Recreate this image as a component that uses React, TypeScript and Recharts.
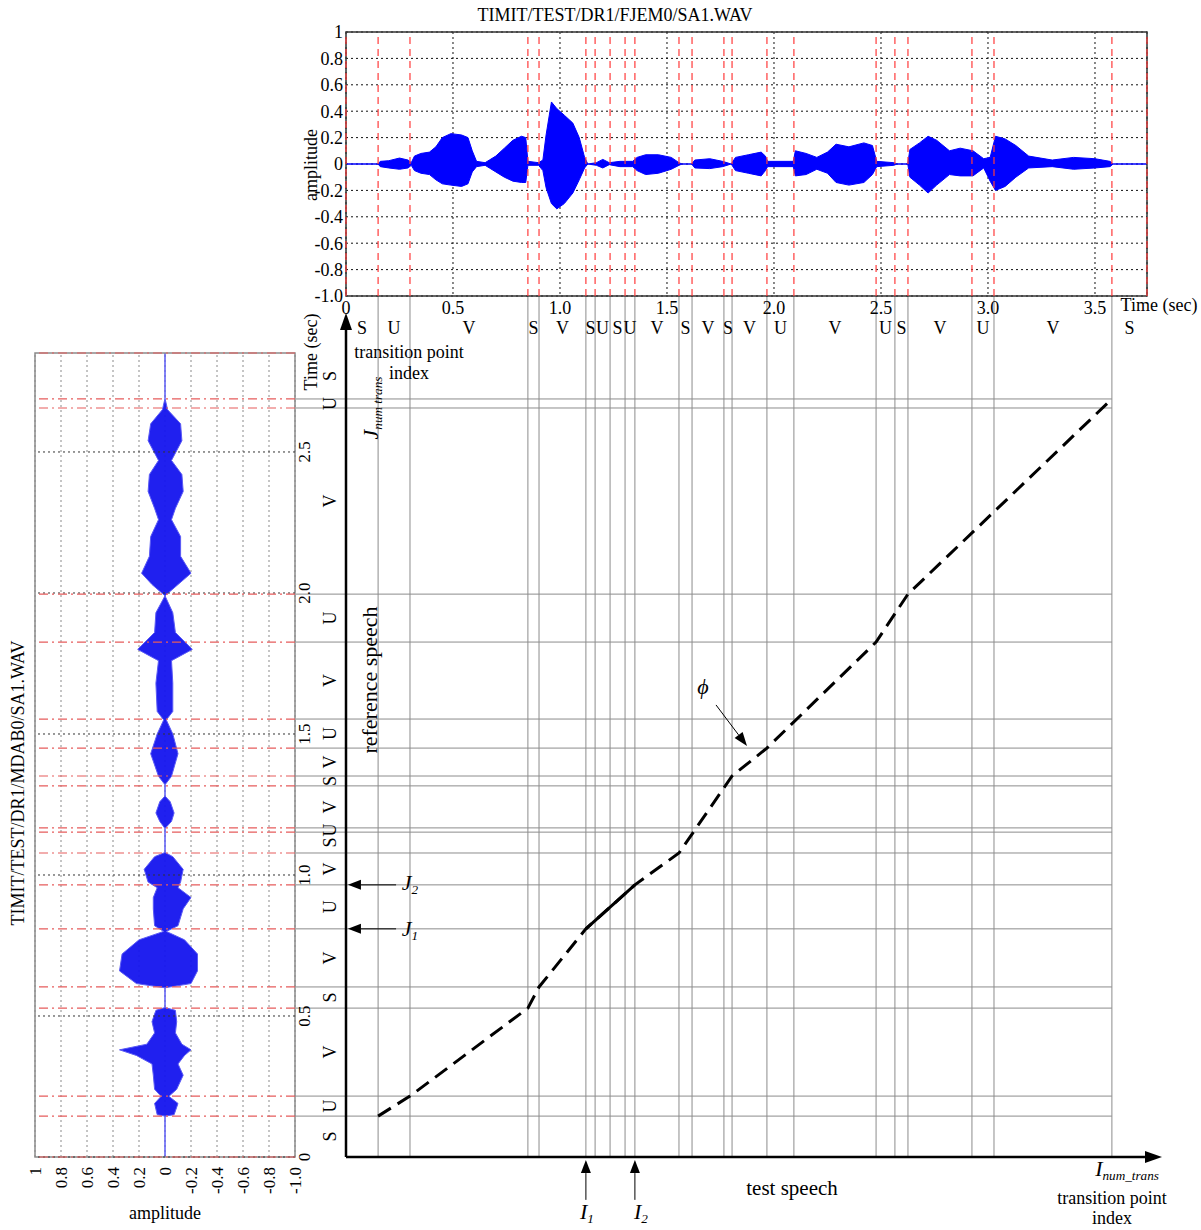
import React from 'react';
import {
  ComposedChart,
  Line,
  Area,
  XAxis,
  YAxis,
  CartesianGrid,
  ReferenceLine,
  ReferenceArea,
  ReferenceDot,
} from 'recharts';

const FONT = '"Liberation Serif", "Times New Roman", serif';

// test speech FJEM0 - transition points (sec) and S/U/V segment labels
const testTrans = [0.150, 0.299, 0.850, 0.902, 1.121, 1.164, 1.234, 1.304, 1.350, 1.556, 1.617, 1.766, 1.804, 1.967, 2.093, 2.477, 2.565, 2.626, 2.925, 3.028, 3.579];
const testEnd = 3.743;
const testSegLabels = ['S', 'U', 'V', 'S', 'V', 'S', 'U', 'S', 'U', 'V', 'S', 'V', 'S', 'V', 'U', 'V', 'U', 'S', 'V', 'U', 'V', 'S'];

// reference speech MDAB0
const refTrans = [0.145, 0.216, 0.528, 0.603, 0.809, 0.965, 1.078, 1.152, 1.167, 1.316, 1.351, 1.450, 1.553, 1.826, 1.996, 2.656, 2.688];
const refEnd = 2.851;
const refSegLabels = ['S', 'U', 'V', 'S', 'V', 'U', 'V', 'S', 'U', 'V', 'S', 'V', 'U', 'V', 'U', 'V', 'U', 'S'];

// waveform envelopes (upper / lower amplitude)
const testWaveT = [0, 0.15, 0.16, 0.2, 0.25, 0.29, 0.305, 0.32, 0.35, 0.39, 0.42, 0.45, 0.49, 0.54, 0.57, 0.59, 0.61, 0.65, 0.67, 0.7, 0.74, 0.78, 0.82, 0.84, 0.85, 0.9, 0.92, 0.935, 0.96, 0.985, 1.02, 1.06, 1.09, 1.115, 1.13, 1.17, 1.2, 1.23, 1.28, 1.34, 1.36, 1.4, 1.46, 1.52, 1.556, 1.57, 1.615, 1.63, 1.7, 1.76, 1.8, 1.82, 1.88, 1.94, 1.96, 1.97, 2.09, 2.1, 2.15, 2.2, 2.25, 2.29, 2.35, 2.42, 2.46, 2.48, 2.56, 2.575, 2.625, 2.635, 2.68, 2.72, 2.76, 2.82, 2.87, 2.93, 2.98, 3.01, 3.035, 3.08, 3.13, 3.19, 3.3, 3.4, 3.5, 3.57, 3.585, 3.743];
const testWaveHi = [0, 0, 0.02, 0.025, 0.045, 0.03, 0.01, 0.06, 0.08, 0.09, 0.13, 0.2, 0.23, 0.22, 0.2, 0.1, 0.02, 0.01, 0.03, 0.06, 0.12, 0.18, 0.21, 0.2, 0.02, 0.01, 0.03, 0.22, 0.47, 0.42, 0.37, 0.31, 0.2, 0.05, 0, 0.01, 0.035, 0.01, 0.02, 0.02, 0.05, 0.07, 0.07, 0.05, 0.01, 0, 0, 0.03, 0.04, 0.02, 0, 0.05, 0.07, 0.09, 0.06, 0.02, 0.02, 0.1, 0.08, 0.05, 0.09, 0.15, 0.13, 0.16, 0.14, 0.02, 0.01, 0, 0, 0.11, 0.16, 0.21, 0.18, 0.1, 0.12, 0.1, 0.04, 0.05, 0.21, 0.19, 0.14, 0.06, 0.03, 0.05, 0.04, 0.02, 0, 0];
const testWaveLo = [0, 0, -0.02, -0.03, -0.04, -0.03, -0.01, -0.05, -0.07, -0.08, -0.12, -0.15, -0.16, -0.17, -0.15, -0.06, -0.02, -0.01, -0.03, -0.06, -0.1, -0.13, -0.14, -0.14, -0.01, -0.01, -0.05, -0.18, -0.3, -0.34, -0.3, -0.22, -0.12, -0.03, 0, -0.01, -0.03, -0.005, -0.02, -0.02, -0.05, -0.08, -0.07, -0.04, -0.01, 0, 0, -0.03, -0.035, -0.02, 0, -0.05, -0.07, -0.09, -0.05, -0.02, -0.02, -0.09, -0.08, -0.04, -0.07, -0.14, -0.16, -0.14, -0.08, -0.02, -0.01, 0, 0, -0.1, -0.16, -0.22, -0.16, -0.08, -0.09, -0.09, -0.03, -0.13, -0.2, -0.17, -0.1, -0.03, -0.02, -0.04, -0.03, -0.02, 0, 0];

const refWaveT = [0, 0.145, 0.15, 0.19, 0.215, 0.24, 0.29, 0.33, 0.36, 0.38, 0.4, 0.44, 0.48, 0.52, 0.53, 0.6, 0.615, 0.66, 0.72, 0.77, 0.8, 0.82, 0.88, 0.92, 0.955, 0.975, 1.02, 1.065, 1.08, 1.165, 1.19, 1.22, 1.26, 1.28, 1.32, 1.35, 1.43, 1.5, 1.55, 1.58, 1.68, 1.76, 1.8, 1.86, 1.93, 1.99, 2.03, 2.07, 2.13, 2.2, 2.26, 2.3, 2.36, 2.42, 2.47, 2.54, 2.6, 2.65, 2.69, 2.851];
const refWaveHi = [0, 0, 0.06, 0.08, 0.03, 0.08, 0.09, 0.1, 0.22, 0.35, 0.14, 0.08, 0.1, 0.07, 0, 0, 0.22, 0.35, 0.33, 0.2, 0.01, 0.08, 0.09, 0.09, 0.06, 0.13, 0.16, 0.08, 0, 0, 0.04, 0.07, 0.04, 0, 0, 0.05, 0.11, 0.06, 0.01, 0.06, 0.07, 0.05, 0.21, 0.08, 0.07, 0, 0.1, 0.18, 0.12, 0.11, 0.05, 0.08, 0.13, 0.12, 0.05, 0.13, 0.11, 0.02, 0, 0];
const refWaveLo = [0, 0, -0.07, -0.1, -0.03, -0.09, -0.14, -0.1, -0.15, -0.2, -0.13, -0.08, -0.09, -0.08, 0, 0, -0.2, -0.25, -0.25, -0.15, -0.01, -0.1, -0.14, -0.2, -0.1, -0.12, -0.14, -0.06, 0, 0, -0.05, -0.07, -0.04, 0, 0, -0.05, -0.1, -0.06, -0.01, -0.06, -0.06, -0.05, -0.21, -0.08, -0.06, 0, -0.1, -0.2, -0.12, -0.12, -0.05, -0.08, -0.14, -0.13, -0.05, -0.13, -0.12, -0.02, 0, 0];

// warping path phi: (test time, reference time)
const pathTest = [0.150, 0.299, 0.850, 0.902, 1.121, 1.350, 1.556, 1.804, 1.967, 2.477, 2.626, 3.579];
const pathRef = [0.145, 0.216, 0.528, 0.603, 0.809, 0.965, 1.078, 1.351, 1.450, 1.826, 1.996, 2.688];
const I1 = 1.121, I2 = 1.350, J1 = 0.809, J2 = 0.965;

const testTimeTicks = [0, 0.5, 1, 1.5, 2, 2.5, 3, 3.5];
const refTimeTicks = [0, 0.5, 1, 1.5, 2, 2.5];
const ampTicks = [1, 0.8, 0.6, 0.4, 0.2, 0, -0.2, -0.4, -0.6, -0.8, -1];

const fmtTime = (v: number) => (v === 0 ? '0' : v.toFixed(1));
const fmtAmp = (v: number) => (v === 0 ? '0' : v === 1 ? '1' : v.toFixed(1));

// line with a filled arrow head at (x2, y2)
const arrow = (head: number, half: number) => (p: any) => {
  const { x1, y1, x2, y2, stroke, strokeWidth } = p;
  const a = Math.atan2(y2 - y1, x2 - x1);
  const bx = x2 - head * Math.cos(a);
  const by = y2 - head * Math.sin(a);
  const nx = -Math.sin(a) * half;
  const ny = Math.cos(a) * half;
  return (
    <g>
      <line x1={x1} y1={y1} x2={bx} y2={by} stroke={stroke} strokeWidth={strokeWidth} />
      <polygon points={`${x2},${y2} ${bx + nx},${by + ny} ${bx - nx},${by - ny}`} fill={stroke} />
    </g>
  );
};

const segText = (txt: string, rot: number) => (p: any) => (
  <text
    x={p.cx}
    y={p.cy}
    textAnchor="middle"
    dominantBaseline="central"
    fontSize={18}
    fontFamily={FONT}
    fill="#000"
    transform={rot ? `rotate(${rot} ${p.cx} ${p.cy})` : undefined}
  >
    {txt}
  </text>
);

function Note({ x, y, size = 18, rot = 0, italic = false, children }: any) {
  return (
    <div
      style={{
        position: 'absolute',
        left: x,
        top: y,
        transform: `translate(-50%, -50%)${rot ? ` rotate(${rot}deg)` : ''}`,
        fontFamily: FONT,
        fontSize: size,
        fontStyle: italic ? 'italic' : 'normal',
        whiteSpace: 'nowrap',
        lineHeight: 1,
        color: '#000',
      }}
    >
      {children}
    </div>
  );
}

const sub = { fontSize: '0.6em', verticalAlign: '-0.35em' };

function TopWave() {
  const data = testWaveT.map((t, i) => ({ t, band: [testWaveLo[i], testWaveHi[i]] }));
  const tick = { fill: '#000', fontSize: 18, fontFamily: FONT };
  return (
    <div style={{ position: 'absolute', left: 0, top: 0 }}>
      <ComposedChart width={1201} height={330} data={data} margin={{ top: 32, right: 54, bottom: 4, left: 286 }}>
        <CartesianGrid stroke="#111" strokeDasharray="2 3" />
        <XAxis type="number" dataKey="t" domain={[0, testEnd]} ticks={testTimeTicks} tickFormatter={fmtTime}
          allowDataOverflow axisLine={false} tickLine={false} tickSize={0} tickMargin={5} height={30} tick={tick} interval={0} />
        <YAxis type="number" domain={[-1, 1]} ticks={ampTicks} tickFormatter={fmtAmp}
          allowDataOverflow axisLine={false} tickLine={false} tickSize={0} tickMargin={3} width={60} tick={tick} interval={0} />
        {[0, ...testTrans, testEnd].map((t) => (
          <ReferenceLine key={t} x={t} stroke="#ff3b3b" strokeDasharray="7 5" strokeWidth={1.2} />
        ))}
        <Area dataKey="band" type="linear" stroke="#0000ff" strokeWidth={1} fill="#0000ff" fillOpacity={1} isAnimationActive={false} />
        <ReferenceArea x1={0} x2={testEnd} y1={-1} y2={1} fill="none" stroke="#333" strokeWidth={1.5} />
      </ComposedChart>
    </div>
  );
}

// drawn as an ordinary time/amplitude plot, then turned a quarter turn
function LeftWave() {
  const data = refWaveT.map((t, i) => ({ t, band: [refWaveLo[i], refWaveHi[i]] }));
  const tick = { fill: '#000', fontSize: 17, fontFamily: FONT };
  return (
    <div style={{ position: 'absolute', left: 0, top: 0, transformOrigin: '0 0', transform: 'translate(0px, 1217px) rotate(-90deg)' }}>
      <ComposedChart width={884} height={335} data={data} margin={{ top: 35, right: 20, bottom: 10, left: 0 }}>
        <CartesianGrid vertical={false} stroke="#8a8a8a" strokeDasharray="2 3" />
        <XAxis type="number" dataKey="t" domain={[0, refEnd]} ticks={refTimeTicks} tickFormatter={fmtTime}
          allowDataOverflow axisLine={false} tickLine={false} tickSize={0} tickMargin={3} height={30} tick={tick} interval={0} />
        <YAxis type="number" domain={[-1, 1]} ticks={ampTicks} tickFormatter={fmtAmp}
          allowDataOverflow axisLine={false} tickLine={false} tickSize={0} tickMargin={10} width={60} tick={tick} interval={0} />
        {refTimeTicks.map((t) => (
          <ReferenceLine key={'g' + t} x={t} stroke="#333" strokeDasharray="2 3" />
        ))}
        {[0, ...refTrans, refEnd].map((t) => (
          <ReferenceLine key={t} x={t} stroke="#e65c5c" strokeDasharray="9 4 2 4" strokeWidth={1.2} />
        ))}
        <Area dataKey="band" type="linear" stroke="#5a5af5" strokeWidth={1} fill="#1414ee" fillOpacity={0.95} isAnimationActive={false} />
        <ReferenceArea x1={0} x2={refEnd} y1={-1} y2={1} fill="none" stroke="#8a8a8a" strokeWidth={1.5} />
      </ComposedChart>
    </div>
  );
}

function WarpGrid() {
  const data = pathTest.map((t, i) => ({
    t,
    r: pathRef[i],
    solid: t >= I1 - 1e-6 && t <= I2 + 1e-6 ? pathRef[i] : null,
  }));
  const gridTop = 3.053; // reaches up to the waveform above
  const gridLeft = -0.234; // reaches left to the rotated waveform
  const lastTest = testTrans[testTrans.length - 1];
  const tb = [0, ...testTrans, testEnd];
  const rb = [0, ...refTrans, refEnd];
  const gray = '#8c8c8c';
  return (
    <div style={{ position: 'absolute', left: 0, top: 0 }}>
      <ComposedChart width={1201} height={1230} data={data} margin={{ top: 353, right: 54, bottom: 73, left: 346 }}>
        <XAxis type="number" dataKey="t" domain={[0, testEnd]} hide allowDataOverflow />
        <YAxis type="number" domain={[0, refEnd]} hide allowDataOverflow />
        {testTrans.map((t) => (
          <ReferenceLine key={'v' + t} segment={[{ x: t, y: 0 }, { x: t, y: gridTop }]} ifOverflow="visible" stroke={gray} strokeWidth={1} />
        ))}
        {refTrans.map((r) => (
          <ReferenceLine key={'h' + r} segment={[{ x: gridLeft, y: r }, { x: lastTest, y: r }]} ifOverflow="visible" stroke={gray} strokeWidth={1} />
        ))}
        {/* axes */}
        <ReferenceLine segment={[{ x: 0, y: 0 }, { x: 0, y: 2.993 }]} ifOverflow="visible" stroke="#000" strokeWidth={2.5} shape={arrow(17, 6)} />
        <ReferenceLine segment={[{ x: 0, y: 0 }, { x: 3.813, y: 0 }]} ifOverflow="visible" stroke="#000" strokeWidth={2.5} shape={arrow(17, 6)} />
        {/* index markers */}
        {[J1, J2].map((j) => (
          <ReferenceLine key={'j' + j} segment={[{ x: 0.234, y: j }, { x: 0.009, y: j }]} ifOverflow="visible" stroke="#000" strokeWidth={1} shape={arrow(13, 5)} />
        ))}
        {[I1, I2].map((i) => (
          <ReferenceLine key={'i' + i} segment={[{ x: i, y: -0.152 }, { x: i, y: -0.011 }]} ifOverflow="visible" stroke="#000" strokeWidth={1} shape={arrow(13, 5)} />
        ))}
        <ReferenceLine segment={[{ x: 1.729, y: 1.603 }, { x: 1.874, y: 1.457 }]} ifOverflow="visible" stroke="#000" strokeWidth={1} shape={arrow(14, 5)} />
        {testSegLabels.map((s, i) => (
          <ReferenceDot key={'ts' + i} x={(tb[i] + tb[i + 1]) / 2} y={2.94} r={0} ifOverflow="visible" shape={segText(s, 0)} />
        ))}
        {refSegLabels.map((s, i) => (
          <ReferenceDot key={'rs' + i} x={-0.075} y={(rb[i] + rb[i + 1]) / 2} r={0} ifOverflow="visible" shape={segText(s, -90)} />
        ))}
        <Line dataKey="r" type="linear" stroke="#000" strokeWidth={3} strokeDasharray="15 8" dot={false} isAnimationActive={false} />
        <Line dataKey="solid" type="linear" stroke="#000" strokeWidth={3} dot={false} isAnimationActive={false} />
      </ComposedChart>
    </div>
  );
}

export default function App() {
  return (
    <div style={{ position: 'absolute', left: 0, top: 0, width: 1201, height: 1230, background: '#fff', overflow: 'hidden' }}>
      <WarpGrid />
      <TopWave />
      <LeftWave />

      <Note x={615} y={15}>TIMIT/TEST/DR1/FJEM0/SA1.WAV</Note>
      <Note x={311} y={165} rot={-90}>amplitude</Note>
      <Note x={1159} y={305}>Time (sec)</Note>

      <Note x={18} y={783} rot={-90}>TIMIT/TEST/DR1/MDAB0/SA1.WAV</Note>
      <Note x={165} y={1213}>amplitude</Note>
      <Note x={311} y={352} rot={-90}>Time (sec)</Note>

      <Note x={409} y={352}>transition point</Note>
      <Note x={409} y={373}>index</Note>
      <Note x={372} y={408} rot={-90} size={22} italic>
        J<span style={sub}>num trans</span>
      </Note>
      <Note x={370} y={680} rot={-90} size={22}>reference speech</Note>
      <Note x={703} y={687} size={22} italic>ϕ</Note>
      <Note x={410} y={884} size={22} italic>
        J<span style={sub}>2</span>
      </Note>
      <Note x={410} y={930} size={22} italic>
        J<span style={sub}>1</span>
      </Note>
      <Note x={587} y={1213} size={22} italic>
        I<span style={sub}>1</span>
      </Note>
      <Note x={641} y={1213} size={22} italic>
        I<span style={sub}>2</span>
      </Note>
      <Note x={792} y={1188} size={21}>test speech</Note>
      <Note x={1127} y={1170} size={22} italic>
        I<span style={sub}>num_trans</span>
      </Note>
      <Note x={1112} y={1198}>transition point</Note>
      <Note x={1112} y={1218}>index</Note>
    </div>
  );
}
